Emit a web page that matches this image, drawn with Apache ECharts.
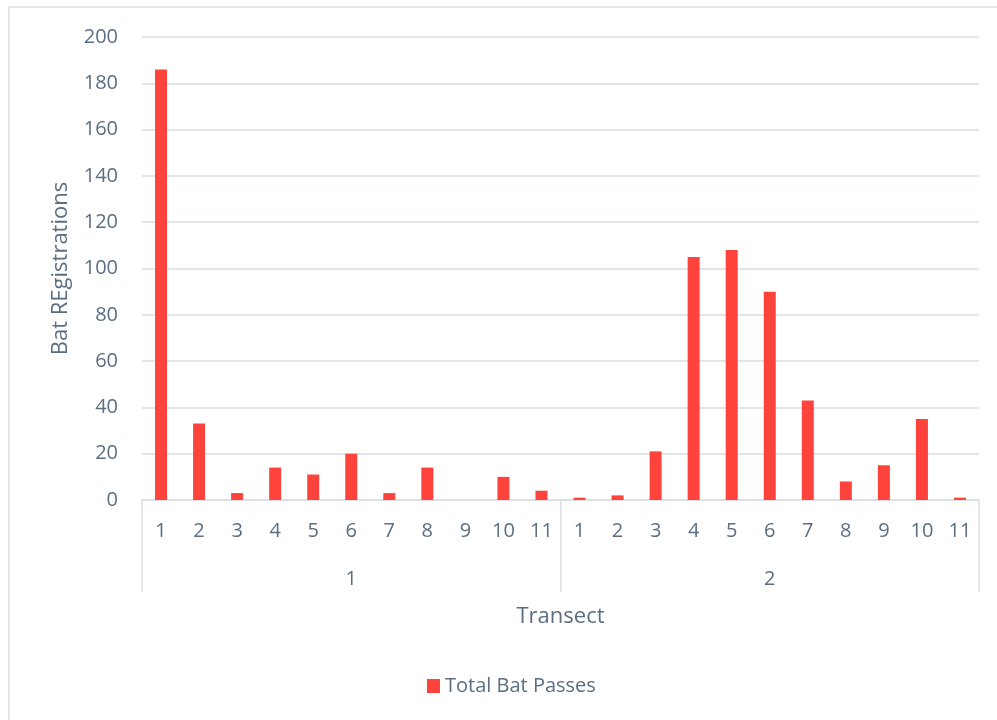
<!DOCTYPE html>
<html>
<head>
<meta charset="utf-8">
<script src="https://cdn.jsdelivr.net/npm/echarts@6/dist/echarts.min.js"></script>
<style>html,body{margin:0;padding:0;background:#fff}#c{width:997px;height:720px}</style>
</head>
<body>
<div id="c"></div>
<script>
const transectLabels = ['1','2'];
const pointLabels = ['1','2','3','4','5','6','7','8','9','10','11','1','2','3','4','5','6','7','8','9','10','11'];
const totalBatPasses = [186,33,3,14,11,20,3,14,0,10,4, 1,2,21,105,108,90,43,8,15,35,1];
const yTicks = {min:0, max:200, interval:20};

const FONT = '"Open Sans", "Liberation Sans", sans-serif';
const TXT = '#5B6E82';
const LINE = '#D9DEE4';
const chart = echarts.init(document.getElementById('c'));
chart.setOption({
  animation:false,
  backgroundColor:'#fff',
  textStyle:{fontFamily:FONT},
  graphic:[{type:'rect', shape:{x:9,y:7,width:1000,height:730}, style:{fill:'none', stroke:LINE, lineWidth:1.5}, silent:true}],
  grid:{left:142, right:18, top:37, bottom:220, containLabel:false},
  legend:{left:422, top:671, itemWidth:13, itemHeight:14, icon:'rect', itemGap:6,
    textStyle:{color:TXT, fontSize:20, fontFamily:FONT}},
  xAxis:[{
    type:'category', data:pointLabels, position:'bottom',
    axisLine:{show:true, lineStyle:{color:LINE, width:1.5}},
    axisTick:{show:false},
    axisLabel:{interval:0, margin:21, color:TXT, fontSize:20, fontFamily:FONT}
  },{
    type:'category', data:transectLabels, position:'bottom',
    axisLine:{show:false},
    axisTick:{show:true, length:92, interval:0, lineStyle:{color:LINE, width:1.5}},
    axisLabel:{interval:0, margin:69, color:TXT, fontSize:20, fontFamily:FONT},
    name:'Transect', nameLocation:'middle', nameGap:106,
    nameTextStyle:{color:TXT, fontSize:22, fontFamily:FONT}
  }],
  yAxis:{
    type:'value', min:yTicks.min, max:yTicks.max, interval:yTicks.interval,
    axisLine:{show:false}, axisTick:{show:false},
    splitLine:{lineStyle:{color:LINE, width:1.5}},
    axisLabel:{margin:24, color:TXT, fontSize:20, fontFamily:FONT},
    name:'Bat REgistrations', nameLocation:'middle', nameGap:70,
    nameTextStyle:{color:TXT, fontSize:22, fontFamily:FONT}
  },
  series:[{
    name:'Total Bat Passes', type:'bar', xAxisIndex:0, data:totalBatPasses,
    barWidth:12, itemStyle:{color:'#FE433C'}
  }]
});
</script>
</body>
</html>
